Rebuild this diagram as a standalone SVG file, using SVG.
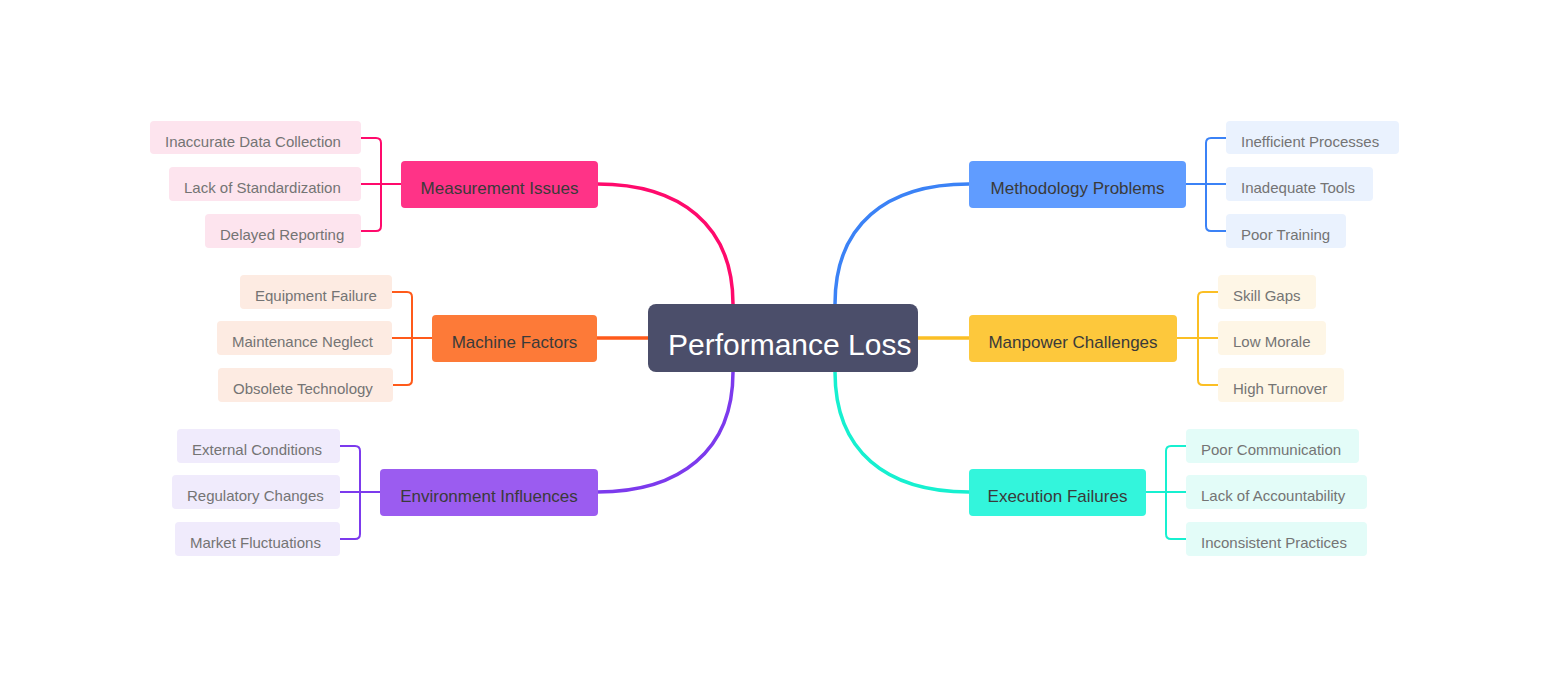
<svg xmlns="http://www.w3.org/2000/svg" width="1548" height="677" viewBox="0 0 1548 677">
<style>
text{font-family:"Liberation Sans",Arial,sans-serif}
.main{font-size:17px;fill:#3a3a3a;text-anchor:middle}
.leaf{font-size:15px;fill:#747474}
.root{font-size:30px;fill:#fff}
.c{fill:none;stroke-width:2;stroke-linecap:round}
.m{fill:none;stroke-width:3.5;stroke-linecap:round}
</style>
<rect width="1548" height="677" fill="#fff"/>
<g id="connectors">
<path class="m" stroke="#ff0a6c" d="M597,184 C680,184 733,225 733,304"/>
<path class="m" stroke="#3b82f6" d="M969,184 C886,184 835,225 835,304"/>
<path class="m" stroke="#7c3aed" d="M597,492 C680,492 733,451 733,372"/>
<path class="m" stroke="#16f0d0" d="M969,492 C886,492 835,451 835,372"/>
<path class="m" stroke="#ff5a1a" stroke-width="4" d="M597,338 L648,338"/>
<path class="m" stroke="#fbbf24" stroke-width="4" d="M918,338 L969,338"/>
<path class="c" stroke="#ff0a6c" d="M361,138 H376 Q381,138 381,143 V226 Q381,231 376,231 H361 M361,184 H401"/>
<path class="c" stroke="#3b82f6" d="M1226,138 H1211 Q1206,138 1206,143 V226 Q1206,231 1211,231 H1226 M1226,184 H1186"/>
<path class="c" stroke="#ff5a1a" d="M392,292 H407 Q412,292 412,297 V380 Q412,385 407,385 H392 M392,338 H432"/>
<path class="c" stroke="#fbbf24" d="M1218,292 H1203 Q1198,292 1198,297 V380 Q1198,385 1203,385 H1218 M1218,338 H1177"/>
<path class="c" stroke="#7c3aed" d="M340,446 H355 Q360,446 360,451 V534 Q360,539 355,539 H340 M340,492 H380"/>
<path class="c" stroke="#16f0d0" d="M1186,446 H1171 Q1166,446 1166,451 V534 Q1166,539 1171,539 H1186 M1186,492 H1146"/>
</g>
<g id="root">
<rect x="648" y="304" width="270" height="68" rx="8" fill="#4b4e6a"/>
<text class="root" x="668" y="355">Performance Loss</text>
</g>
<g id="measurement">
<rect x="401" y="161" width="197" height="47" rx="4" fill="#ff3387"/>
<text class="main" x="499.5" y="194">Measurement Issues</text>
</g>
<g id="m1"><rect x="150" y="121" width="211" height="33" rx="4" fill="#fde4ee"/><text class="leaf" x="165" y="147">Inaccurate Data Collection</text></g>
<g id="m2"><rect x="169" y="167" width="192" height="34" rx="4" fill="#fde4ee"/><text class="leaf" x="184" y="193">Lack of Standardization</text></g>
<g id="m3"><rect x="205" y="214" width="156" height="34" rx="4" fill="#fde4ee"/><text class="leaf" x="220" y="240">Delayed Reporting</text></g>
<g id="methodology">
<rect x="969" y="161" width="217" height="47" rx="4" fill="#609cff"/>
<text class="main" x="1077.5" y="194">Methodology Problems</text>
</g>
<g id="t1"><rect x="1226" y="121" width="173" height="33" rx="4" fill="#eaf2fe"/><text class="leaf" x="1241" y="147">Inefficient Processes</text></g>
<g id="t2"><rect x="1226" y="167" width="147" height="34" rx="4" fill="#eaf2fe"/><text class="leaf" x="1241" y="193">Inadequate Tools</text></g>
<g id="t3"><rect x="1226" y="214" width="120" height="34" rx="4" fill="#eaf2fe"/><text class="leaf" x="1241" y="240">Poor Training</text></g>
<g id="machine">
<rect x="432" y="315" width="165" height="47" rx="4" fill="#fd7a38"/>
<text class="main" x="514.5" y="348">Machine Factors</text>
</g>
<g id="f1"><rect x="240" y="275" width="152" height="34" rx="4" fill="#fdebe2"/><text class="leaf" x="255" y="301">Equipment Failure</text></g>
<g id="f2"><rect x="217" y="321" width="175" height="34" rx="4" fill="#fdebe2"/><text class="leaf" x="232" y="347">Maintenance Neglect</text></g>
<g id="f3"><rect x="218" y="368" width="175" height="34" rx="4" fill="#fdebe2"/><text class="leaf" x="233" y="394">Obsolete Technology</text></g>
<g id="manpower">
<rect x="969" y="315" width="208" height="47" rx="4" fill="#fdc83c"/>
<text class="main" x="1073" y="348">Manpower Challenges</text>
</g>
<g id="p1"><rect x="1218" y="275" width="98" height="34" rx="4" fill="#fef6e6"/><text class="leaf" x="1233" y="301">Skill Gaps</text></g>
<g id="p2"><rect x="1218" y="321" width="108" height="34" rx="4" fill="#fef6e6"/><text class="leaf" x="1233" y="347">Low Morale</text></g>
<g id="p3"><rect x="1218" y="368" width="126" height="34" rx="4" fill="#fef6e6"/><text class="leaf" x="1233" y="394">High Turnover</text></g>
<g id="environment">
<rect x="380" y="469" width="218" height="47" rx="4" fill="#9b5cf0"/>
<text class="main" x="489" y="502">Environment Influences</text>
</g>
<g id="e1"><rect x="177" y="429" width="163" height="34" rx="4" fill="#f0ebfc"/><text class="leaf" x="192" y="455">External Conditions</text></g>
<g id="e2"><rect x="172" y="475" width="168" height="34" rx="4" fill="#f0ebfc"/><text class="leaf" x="187" y="501">Regulatory Changes</text></g>
<g id="e3"><rect x="175" y="522" width="165" height="34" rx="4" fill="#f0ebfc"/><text class="leaf" x="190" y="548">Market Fluctuations</text></g>
<g id="execution">
<rect x="969" y="469" width="177" height="47" rx="4" fill="#33f5dc"/>
<text class="main" x="1057.5" y="502">Execution Failures</text>
</g>
<g id="x1"><rect x="1186" y="429" width="173" height="34" rx="4" fill="#e3fcf8"/><text class="leaf" x="1201" y="455">Poor Communication</text></g>
<g id="x2"><rect x="1186" y="475" width="181" height="34" rx="4" fill="#e3fcf8"/><text class="leaf" x="1201" y="501">Lack of Accountability</text></g>
<g id="x3"><rect x="1186" y="522" width="181" height="34" rx="4" fill="#e3fcf8"/><text class="leaf" x="1201" y="548">Inconsistent Practices</text></g>
</svg>
